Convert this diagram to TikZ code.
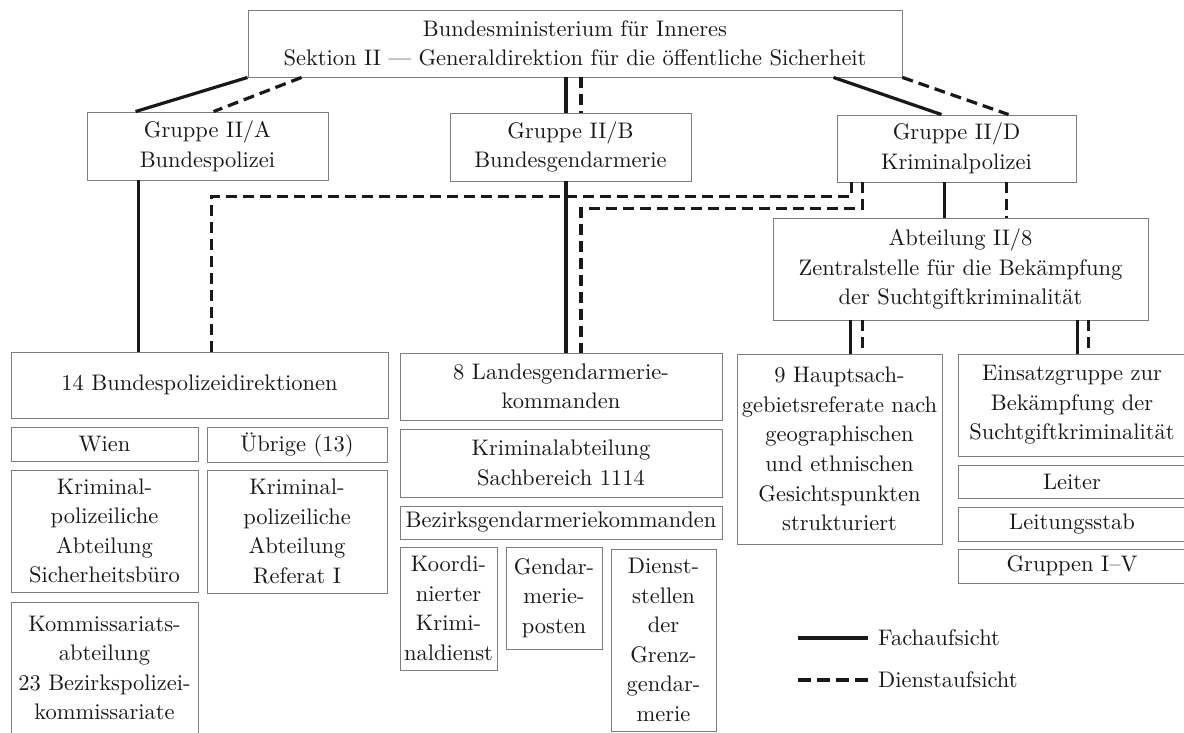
\documentclass[tikz,border=0pt]{standalone}
\usepackage{fontspec}
\usepackage{xcolor}
\setmainfont{lmroman10-regular.otf}

\definecolor{boxgray}{RGB}{125,125,125}
\definecolor{inkblack}{RGB}{25,25,25}
\newcommand\orgfont{\fontsize{22.5}{29.6}\selectfont}

\tikzset{
  orgbox/.style={draw=boxgray, line width=0.9pt, inner sep=0pt, align=center, text=inkblack, font=\orgfont},
  fach/.style={draw=inkblack, line width=3.2pt},
  dienst/.style={draw=inkblack, line width=3.2pt, dash pattern=on 11pt off 6pt},
  legtext/.style={anchor=west, inner sep=0pt, text=inkblack, font=\orgfont},
}

\begin{document}
\begin{tikzpicture}[x=1pt,y=1pt,yscale=-1]
\useasboundingbox[fill=white] (0,0) rectangle (1184,733);

%Ministerium
\node[orgbox, minimum width=654pt, minimum height=67pt] (bmi) at (575,43.5) {Bundesministerium für Inneres\\Sektion II --- Generaldirektion für die öffentliche Sicherheit};

%Gruppen
\node[orgbox, minimum width=241pt, minimum height=68pt] (grA) at (207.5,146) {Gruppe II/A\\Bundespolizei};
\node[orgbox, minimum width=241pt, minimum height=68pt] (grB) at (570.5,147) {Gruppe II/B\\Bundesgendarmerie};
\node[orgbox, minimum width=239pt, minimum height=67pt] (grD) at (956.5,148.5) {Gruppe II/D\\Kriminalpolizei};
\node[orgbox, minimum width=375pt, minimum height=102pt] (abt) at (960.5,269) {Abteilung II/8\\Zentralstelle für die Bekämpfung\\der Suchtgiftkriminalität};

%Bundespolizei
\node[orgbox, minimum width=377pt, minimum height=66pt] (bpd) at (199.5,385) {14 Bundespolizeidirektionen};
\node[orgbox, minimum width=187pt, minimum height=34pt] (wien) at (104.5,444) {Wien};
\node[orgbox, minimum width=180pt, minimum height=35pt] (uebrige) at (297,444.5) {Übrige (13)};
\node[orgbox, minimum width=187pt, minimum height=122pt] (kpsb) at (104.5,531) {Kriminal-\\polizeiliche\\Abteilung\\Sicherheitsbüro};
\node[orgbox, minimum width=180pt, minimum height=123pt] (kpref) at (297,531.5) {Kriminal-\\polizeiliche\\Abteilung\\Referat I};
\node[orgbox, minimum width=187pt, minimum height=132pt] (komm) at (104.5,668) {Kommissariats-\\abteilung\\23 Bezirkspolizei-\\kommissariate};

%Gendarmerie
\node[orgbox, minimum width=322pt, minimum height=67pt] (lgk) at (561,386.5) {8 Landesgendarmerie-\\kommanden};
\node[orgbox, minimum width=322pt, minimum height=68pt] (kabt) at (561,463) {Kriminalabteilung\\Sachbereich 1114};
\node[orgbox, minimum width=322pt, minimum height=33pt] (bgk) at (561,522.5) {Bezirksgendarmeriekommanden};
\node[orgbox, minimum width=97pt, minimum height=123pt] (kkd) at (448.5,608.5) {Koordi-\\nierter\\Krimi-\\naldienst};
\node[orgbox, minimum width=96pt, minimum height=102pt] (gposten) at (554,598) {Gendar-\\merie-\\posten};
\node[orgbox, minimum width=105pt, minimum height=182pt] (dgg) at (663.5,640) {Dienst-\\stellen\\der\\Grenz-\\gendar-\\merie};

%Suchtgift
\node[orgbox, minimum width=205pt, minimum height=190pt] (haupt) at (839.5,449) {9 Hauptsach-\\gebietsreferate nach\\geographischen\\und ethnischen\\Gesichtspunkten\\strukturiert};
\node[orgbox, minimum width=228pt, minimum height=102pt] (einsatz) at (1072,405) {Einsatzgruppe zur\\Bekämpfung der\\Suchtgiftkriminalität};
\node[orgbox, minimum width=228pt, minimum height=33pt] (leiter) at (1072,481.5) {Leiter};
\node[orgbox, minimum width=228pt, minimum height=34pt] (lstab) at (1072,524) {Leitungsstab};
\node[orgbox, minimum width=228pt, minimum height=34pt] (gruppen) at (1072,566) {Gruppen I--V};

%tracks
\coordinate (trA) at ([xshift=52pt]grA.south west);
\coordinate (trBf) at ([xshift=-4.5pt]grB.north);
\coordinate (trBd) at ([xshift=10.5pt]grB.north);
\coordinate (trDf) at ([xshift=108pt]grD.south west);
\coordinate (trDd) at ([xshift=170pt]grD.south west);
\coordinate (trHf) at ([xshift=114pt]haupt.north west);
\coordinate (trHd) at ([xshift=126pt]haupt.north west);
\coordinate (trEf) at ([xshift=120pt]einsatz.north west);
\coordinate (trEd) at ([xshift=131pt]einsatz.north west);

%Ministerium -> Gruppen
\draw[fach] (bmi.south west) -- ([xshift=49pt]grA.north west);
\draw[dienst] ([xshift=54pt]bmi.south west) -- ([xshift=127pt]grA.north west);
\draw[fach] (trBf |- bmi.south) -- (trBf);
\draw[dienst] (trBd |- bmi.south) -- (trBd);
\draw[fach] ([xshift=-69pt]bmi.south east) -- ([xshift=105pt]grD.north west);
\draw[dienst] (bmi.south east) -- ([xshift=172pt]grD.north west);

%Gruppen -> unten
\draw[fach] (trA) -- (trA |- bpd.north);
\draw[fach] (trBf |- grB.south) -- (trBf |- lgk.north);
\draw[dienst] ([xshift=15pt]grD.south west) -- ++(0,14) -| ([xshift=201pt]bpd.north west);
\draw[dienst] ([xshift=26pt]grD.south west) -- ++(0,26) -| (trBd |- lgk.north);
\draw[fach] (trDf) -- (trDf |- abt.north);
\draw[dienst] (trDd) -- (trDd |- abt.north);

%Abteilung -> unten
\draw[fach] (trHf |- abt.south) -- (trHf);
\draw[dienst] (trHd |- abt.south) -- (trHd);
\draw[fach] (trEf |- abt.south) -- (trEf);
\draw[dienst] (trEd |- abt.south) -- (trEd);

%Legende
\node[legtext] (lgFach) at (878,638) {Fachaufsicht};
\node[legtext] (lgDienst) at (878,680) {Dienstaufsicht};
\draw[fach] ([xshift=-80pt]lgFach.west) -- ([xshift=-10pt]lgFach.west);
\draw[fach, dash pattern=on 13pt off 6pt] ([xshift=-80pt]lgDienst.west) -- ([xshift=-10pt]lgDienst.west);

\end{tikzpicture}
\end{document}
